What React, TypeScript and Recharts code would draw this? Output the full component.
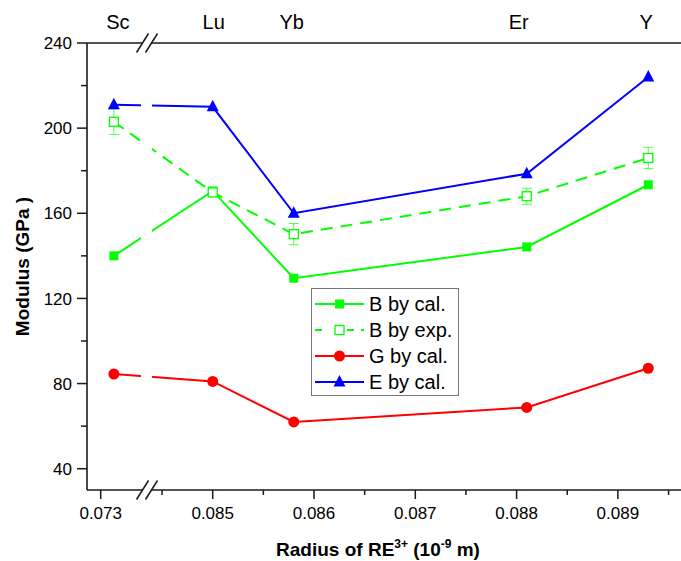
import {
  ComposedChart,
  ErrorBar,
  Label,
  Legend,
  Line,
  ReferenceArea,
  XAxis,
  YAxis,
} from "recharts";

// ionic radii (nm) and moduli (GPa) per rare-earth element
const ELEMENTS = ["Sc", "Lu", "Yb", "Er", "Y"];
const RADII = [0.07313, 0.085, 0.0858, 0.0881, 0.0893];
const B_CAL = [140, 170.5, 129.5, 144.2, 173.4];
const B_EXP = [203, 169.8, 150.2, 168, 186];
const B_EXP_ERR = [6, 2, 5, 3.8, 5];
const G_CAL = [84.5, 81, 62, 68.8, 87.2];
const E_CAL = [211, 210, 160, 178.6, 224];

const X_TICKS = [0.073, 0.0845, 0.085, 0.0855, 0.086, 0.0865, 0.087, 0.0875, 0.088, 0.0885, 0.089, 0.0895];
const X_TICK_LABELS = ["0.073", "", "0.085", "", "0.086", "", "0.087", "", "0.088", "", "0.089", ""];
const Y_TICKS = [40, 60, 80, 100, 120, 140, 160, 180, 200, 220, 240];
const Y_TICK_LABELS = ["40", "", "80", "", "120", "", "160", "", "200", "", "240"];

// axis break: radii below BREAK_AT are shifted right next to the main segment
const BREAK_AT = 0.08;
const BREAK_SHIFT = 0.0108943;
const place = (r: number) => (r < BREAK_AT ? r + BREAK_SHIFT : r);
const X_DOMAIN = [0.083759, 0.089623];
const GAP = [0.084292, 0.084401];

const W = 681;
const H = 561;
const PLOT_LEFT = 87;
const PLOT_TOP = 43;
const PLOT_BOTTOM = 490;
const FONT = "'Liberation Sans', Arial, sans-serif";
const AXIS = "#1a1a1a";
// element names sit slightly off their columns
const TOP_LABEL_DX = [4, 1, -2, -8, -2];

const GREEN = "#00ff00";
const RED = "#ff0000";
const BLUE = "#0000ff";

const rows = ELEMENTS.map((el, i) => ({
  el,
  pos: place(RADII[i]),
  bCal: B_CAL[i],
  bExp: B_EXP[i],
  bExpErr: B_EXP_ERR[i],
  gCal: G_CAL[i],
  eCal: E_CAL[i],
}));

type MarkerKind = "square" | "openSquare" | "circle" | "triangle";

const SERIES: { key: string; name: string; color: string; marker: MarkerKind; dash?: string }[] = [
  { key: "bCal", name: "B by cal.", color: GREEN, marker: "square" },
  { key: "bExp", name: "B by exp.", color: GREEN, marker: "openSquare", dash: "12 8" },
  { key: "gCal", name: "G by cal.", color: RED, marker: "circle" },
  { key: "eCal", name: "E by cal.", color: BLUE, marker: "triangle" },
];

const Marker = ({ kind, cx, cy, color }: { kind: MarkerKind; cx: number; cy: number; color: string }) => {
  if (kind === "square") return <rect x={cx - 4.5} y={cy - 4.5} width={9} height={9} fill={color} />;
  if (kind === "openSquare")
    return <rect x={cx - 4.5} y={cy - 4.5} width={9} height={9} fill="#fff" stroke={color} strokeWidth={1.3} />;
  if (kind === "circle") return <circle cx={cx} cy={cy} r={5.5} fill={color} />;
  return <polygon points={`${cx},${cy - 7} ${cx + 6},${cy + 4.5} ${cx - 6},${cy + 4.5}`} fill={color} />;
};

const BottomTick = ({ x, payload }: any) => {
  const i = X_TICKS.findIndex((t) => Math.abs(place(t) - payload.value) < 1e-9);
  const label = X_TICK_LABELS[i];
  return (
    <g>
      <line x1={x} x2={x} y1={PLOT_BOTTOM} y2={PLOT_BOTTOM + (label ? 9 : 5)} stroke={AXIS} strokeWidth={1.5} />
      {label && (
        <text x={x} y={PLOT_BOTTOM + 29} textAnchor="middle" fontSize={17} fontFamily={FONT} fill="#000">
          {label}
        </text>
      )}
    </g>
  );
};

const TopTick = ({ x, payload }: any) => {
  const i = rows.findIndex((r) => Math.abs(r.pos - payload.value) < 1e-9);
  return (
    <text x={x + TOP_LABEL_DX[i]} y={PLOT_TOP - 14} textAnchor="middle" fontSize={20} fontFamily={FONT} fill="#000">
      {ELEMENTS[i]}
    </text>
  );
};

const LeftTick = ({ y, payload }: any) => {
  const label = Y_TICK_LABELS[Y_TICKS.indexOf(payload.value)];
  return (
    <g>
      <line x1={PLOT_LEFT - (label ? 10 : 6)} x2={PLOT_LEFT} y1={y} y2={y} stroke={AXIS} strokeWidth={1.5} />
      {label && (
        <text x={PLOT_LEFT - 15} y={y} dy="0.36em" textAnchor="end" fontSize={17} fontFamily={FONT} fill="#000">
          {label}
        </text>
      )}
    </g>
  );
};

// white strip through the lines plus "//" marks on both horizontal axes
const BreakMask = ({ x, y, width, height }: any) => {
  const cx = x + width / 2 + 1;
  const slashes = (ay: number) => (
    <g>
      <polygon points={`${cx - 11},${ay + 9.5} ${cx + 1},${ay - 9.5} ${cx + 9.5},${ay - 9.5} ${cx - 2.5},${ay + 9.5}`} fill="#fff" />
      <line x1={cx - 11} y1={ay + 9.5} x2={cx + 1} y2={ay - 9.5} stroke={AXIS} strokeWidth={1.5} />
      <line x1={cx - 2} y1={ay + 9.5} x2={cx + 10} y2={ay - 9.5} stroke={AXIS} strokeWidth={1.5} />
    </g>
  );
  return (
    <g>
      <rect x={x} y={y + 2} width={width} height={height - 4} fill="#fff" />
      {slashes(y)}
      {slashes(y + height)}
    </g>
  );
};

const LegendBox = () => (
  <div
    style={{
      border: "1px solid #777",
      background: "#fff",
      padding: "2px 6px 0 3px",
      fontFamily: FONT,
      fontSize: 20,
      color: "#000",
    }}
  >
    {SERIES.map((s) => (
      <div key={s.key} style={{ display: "flex", alignItems: "center", height: 26 }}>
        <svg width={49} height={20}>
          <line x1={0} x2={49} y1={10} y2={10} stroke={s.color} strokeWidth={2} strokeDasharray={s.dash ? "7 10 0 15 7" : undefined} />
          <Marker kind={s.marker} cx={24.5} cy={10} color={s.color} />
        </svg>
        <span style={{ marginLeft: 5, whiteSpace: "nowrap" }}>{s.name}</span>
      </div>
    ))}
  </div>
);

const App = () => (
  <div style={{ position: "absolute", left: 0, top: 0 }}>
    <ComposedChart width={W} height={H} data={rows} margin={{ top: 0, right: 0, bottom: 0, left: 0 }}>
      <XAxis
        xAxisId="bottom"
        type="number"
        dataKey="pos"
        domain={X_DOMAIN}
        allowDataOverflow
        ticks={X_TICKS.map(place)}
        interval={0}
        tick={<BottomTick />}
        tickLine={false}
        axisLine={{ stroke: AXIS, strokeWidth: 1.6 }}
        height={H - PLOT_BOTTOM}
      >
        <Label
          content={() => (
            <text x={378} y={556} textAnchor="middle" fontSize={19} fontWeight="bold" fontFamily={FONT} fill="#000">
              Radius of RE
              <tspan fontSize={12} dy={-8}>3+</tspan>
              <tspan dy={8}> (10</tspan>
              <tspan fontSize={12} dy={-8}>-9</tspan>
              <tspan dy={8}> m)</tspan>
            </text>
          )}
        />
      </XAxis>
      <XAxis
        xAxisId="top"
        orientation="top"
        type="number"
        dataKey="pos"
        domain={X_DOMAIN}
        allowDataOverflow
        ticks={rows.map((r) => r.pos)}
        interval={0}
        tick={<TopTick />}
        tickLine={false}
        axisLine={{ stroke: AXIS, strokeWidth: 1.6 }}
        height={PLOT_TOP}
      />
      <YAxis
        type="number"
        domain={[30, 240]}
        allowDataOverflow
        ticks={Y_TICKS}
        interval={0}
        tick={<LeftTick />}
        tickLine={false}
        axisLine={{ stroke: AXIS, strokeWidth: 1.6 }}
        width={PLOT_LEFT}
      >
        <Label
          content={() => (
            <text
              x={22}
              y={(PLOT_TOP + PLOT_BOTTOM) / 2}
              transform={`rotate(-90, 22, ${(PLOT_TOP + PLOT_BOTTOM) / 2})`}
              textAnchor="middle"
              dy="0.36em"
              fontSize={19}
              fontWeight="bold"
              fontFamily={FONT}
              fill="#000"
            >
              Modulus (GPa )
            </text>
          )}
        />
      </YAxis>

      {SERIES.map((s) => (
        <Line
          key={s.key}
          xAxisId="bottom"
          dataKey={s.key}
          name={s.name}
          stroke={s.color}
          strokeWidth={2}
          strokeDasharray={s.dash}
          isAnimationActive={false}
          dot={(p: any) => <Marker key={`${s.key}-${p.index}`} kind={s.marker} cx={p.cx} cy={p.cy} color={s.color} />}
          activeDot={false}
        >
          {s.key === "bExp" && (
            <ErrorBar dataKey="bExpErr" direction="y" width={5} stroke="#55ff55" strokeWidth={1} isAnimationActive={false} />
          )}
        </Line>
      ))}

      <ReferenceArea xAxisId="bottom" x1={GAP[0]} x2={GAP[1]} ifOverflow="visible" shape={<BreakMask />} zIndex={1000} />

      <Legend
        layout="vertical"
        align="center"
        verticalAlign="middle"
        wrapperStyle={{ position: "absolute", left: 311, top: 288, width: "auto" }}
        content={() => <LegendBox />}
      />
    </ComposedChart>
  </div>
);

export default App;
